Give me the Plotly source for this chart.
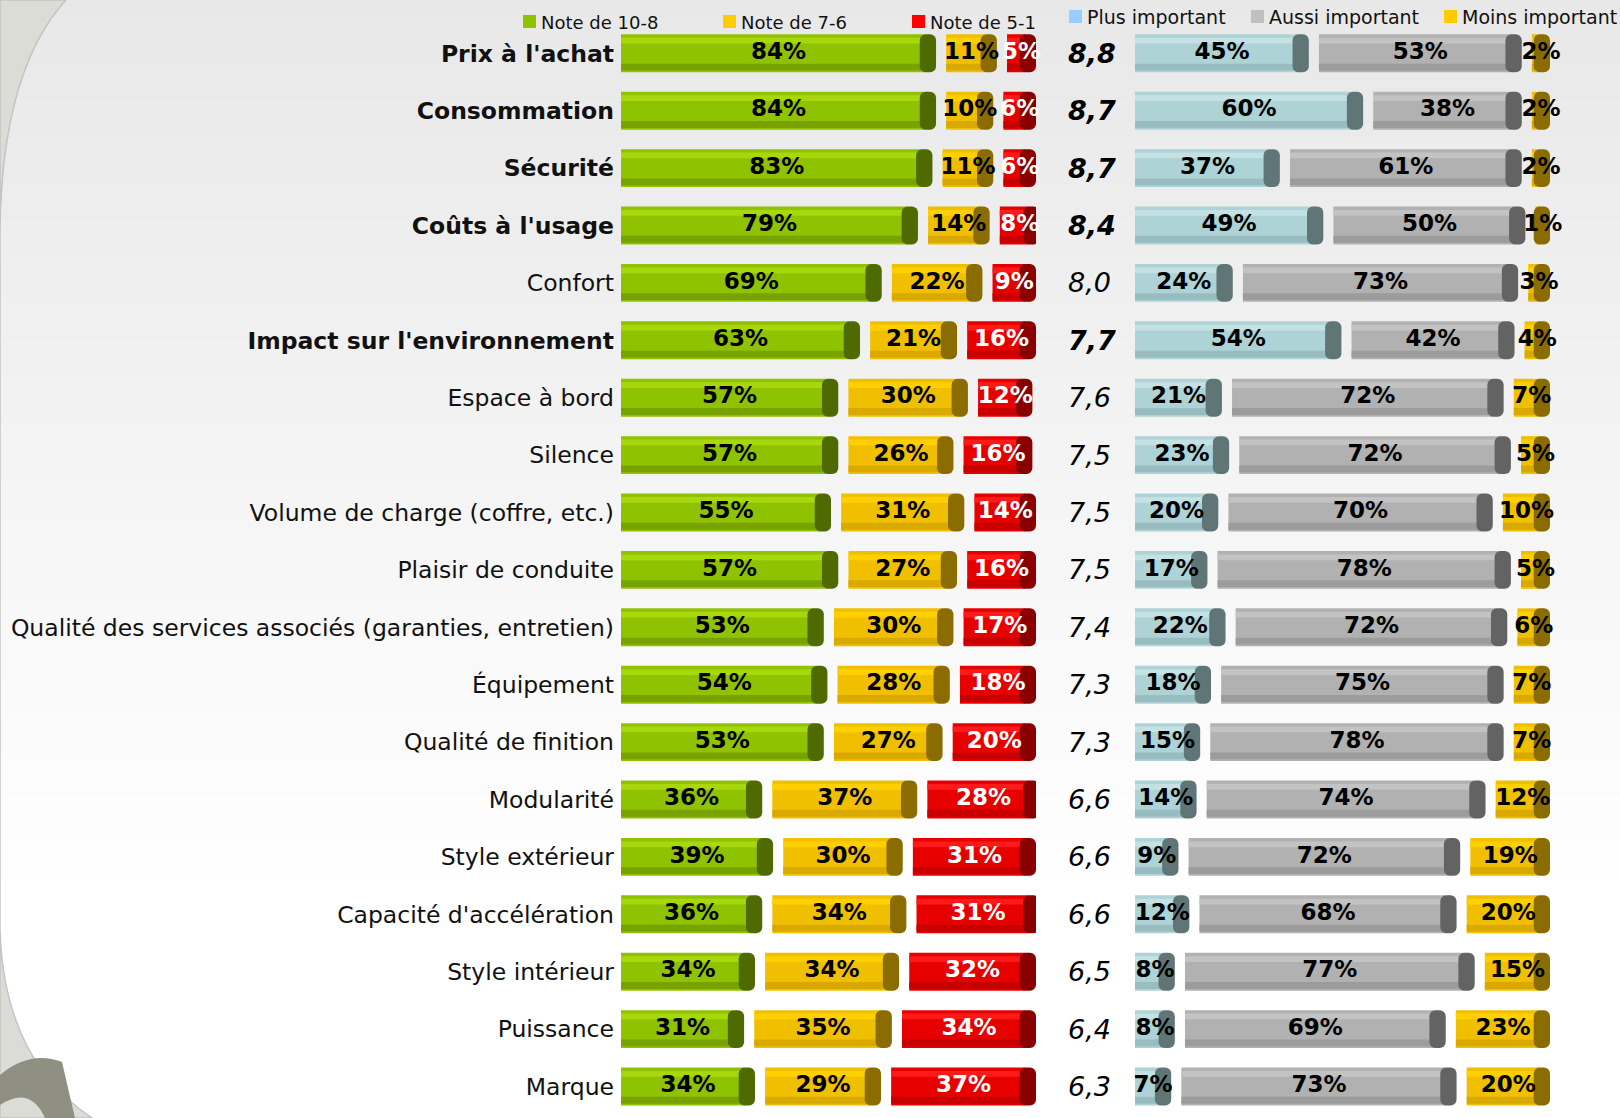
import plotly.graph_objects as go

# ---------------- data ----------------
categories = [
    "Prix à l'achat", "Consommation", "Sécurité", "Coûts à l'usage", "Confort",
    "Impact sur l'environnement", "Espace à bord", "Silence",
    "Volume de charge (coffre, etc.)", "Plaisir de conduite",
    "Qualité des services associés (garanties, entretien)", "Équipement",
    "Qualité de finition", "Modularité", "Style extérieur",
    "Capacité d'accélération", "Style intérieur", "Puissance", "Marque",
]
bold_categories = [True, True, True, True, False, True] + [False] * 13

note_10_8 = [84, 84, 83, 79, 69, 63, 57, 57, 55, 57, 53, 54, 53, 36, 39, 36, 34, 31, 34]
note_7_6 = [11, 10, 11, 14, 22, 21, 30, 26, 31, 27, 30, 28, 27, 37, 30, 34, 34, 35, 29]
note_5_1 = [5, 6, 6, 8, 9, 16, 12, 16, 14, 16, 17, 18, 20, 28, 31, 31, 32, 34, 37]

plus_important = [45, 60, 37, 49, 24, 54, 21, 23, 20, 17, 22, 18, 15, 14, 9, 12, 8, 8, 7]
aussi_important = [53, 38, 61, 50, 73, 42, 72, 72, 70, 78, 72, 75, 78, 74, 72, 68, 77, 69, 73]
moins_important = [2, 2, 2, 1, 3, 4, 7, 5, 10, 5, 6, 7, 7, 12, 19, 20, 15, 23, 20]

moyennes = ["8,8", "8,7", "8,7", "8,4", "8,0", "7,7", "7,6", "7,5", "7,5", "7,5",
            "7,4", "7,3", "7,3", "6,6", "6,6", "6,6", "6,5", "6,4", "6,3"]
bold_moyennes = [True, True, True, True, False, True] + [False] * 13

left_legend = ["Note de 10-8", "Note de 7-6", "Note de 5-1"]
right_legend = ["Plus important", "Aussi important", "Moins important"]

# ---------------- styles ----------------
W, H = 1620, 1118
TOP = 24.6   # px above first row area
CAP = 3.0    # 3D end cap width (axis units)
GAP = 2.8    # gap between segments (axis units)
XMAX = 100 + 3 * CAP + 2 * GAP
ROW_PX = 57.4
YMAX = (H - TOP) / ROW_PX - 0.5

GREEN = dict(body="#8fc200", hi="#a8d80c", lo="#78a200", cap="#4e6a00", text="#000000")
YELLOW = dict(body="#f0c000", hi="#ffd000", lo="#d9a900", cap="#8a6c00", text="#000000")
RED = dict(body="#e60000", hi="#ff1a1a", lo="#c80000", cap="#8a0000", text="#ffffff")
BLUE = dict(body="#aed3d6", hi="#c4e2e4", lo="#98bcbf", cap="#5f7576", text="#000000")
GREY = dict(body="#b1b1b1", hi="#c3c3c3", lo="#9c9c9c", cap="#636363", text="#000000")

LABEL_FONT = "DejaVu Sans, Verdana, sans-serif"

fig = go.Figure()


def add_panel(series, styles, xaxis):
    bases = [0.0] * len(categories)
    for vals, st in zip(series, styles):
        common = dict(y=categories, orientation="h", xaxis=xaxis, yaxis="y",
                      hoverinfo="skip", showlegend=False)
        fig.add_trace(go.Bar(x=vals, base=bases, width=0.66,
                             marker=dict(color=st["body"], line=dict(width=0)), **common))
        fig.add_trace(go.Bar(x=vals, base=bases, width=0.10, offset=-0.27,
                             marker=dict(color=st["hi"], line=dict(width=0)), **common))
        fig.add_trace(go.Bar(x=vals, base=bases, width=0.12, offset=0.18,
                             marker=dict(color=st["lo"], line=dict(width=0)), **common))
        cap_base = [b + v - CAP / 2 for b, v in zip(bases, vals)]
        fig.add_trace(go.Bar(x=[CAP * 1.5] * len(vals), base=cap_base, width=0.66,
                             marker=dict(color=st["cap"], line=dict(width=0), cornerradius=6),
                             **common))
        fig.add_trace(go.Scatter(
            y=categories, x=[b + (v + CAP) / 2 for b, v in zip(bases, vals)],
            mode="text", text=[f"{v}%" for v in vals], xaxis=xaxis, yaxis="y",
            textfont=dict(family=LABEL_FONT, size=23, color=st["text"], weight="bold"),
            hoverinfo="skip", showlegend=False, cliponaxis=False))
        bases = [b + v + CAP + GAP for b, v in zip(bases, vals)]


add_panel([note_10_8, note_7_6, note_5_1], [GREEN, YELLOW, RED], "x")
add_panel([plus_important, aussi_important, moins_important], [BLUE, GREY, YELLOW], "x2")

# ---------------- background (soft vertical fade) ----------------
shapes = []
NB = 56
top_rgb, bot_rgb = (232, 232, 232), (255, 255, 255)
for i in range(NB):
    t = min(1.0, (i / (NB - 1)) / 0.8)
    c = tuple(round(a + (b - a) * t) for a, b in zip(top_rgb, bot_rgb))
    shapes.append(dict(type="rect", xref="paper", yref="paper", layer="below",
                       x0=0, x1=1, y0=1 - (i + 1) / NB, y1=1 - i / NB + 0.001,
                       fillcolor=f"rgb{c}", line=dict(width=0)))


def P(x, y):
    return f"{x / W:.5f},{1 - y / H:.5f}"


outer = (f"M {P(0, 0)} L {P(66, 0)} Q {P(2, 70)} {P(0, 230)} L {P(0, 930)} "
         f"Q {P(4, 1060)} {P(92, 1118)} L {P(0, 1118)} Z")
shapes.append(dict(type="path", xref="paper", yref="paper", layer="below", path=outer,
                   fillcolor="#dcdcd7", line=dict(color="#c4c4c4", width=1.5)))
deco = (f"M {P(0, 1075)} Q {P(30, 1050)} {P(62, 1062)} L {P(75, 1118)} "
        f"L {P(45, 1118)} Q {P(30, 1085)} {P(0, 1105)} Z")
shapes.append(dict(type="path", xref="paper", yref="paper", layer="below", path=deco,
                   fillcolor="#8f8f82", line=dict(width=0)))

# legend squares + text
annotations = []
left_leg_x = [523, 723, 912]
right_leg_x = [1069, 1251, 1444]
left_cols = [GREEN["body"], "#ffcc00", "#ff0000"]
right_cols = ["#99ccff", "#c0c0c0", "#ffcc00"]
for name, x0, col in zip(left_legend, left_leg_x, left_cols):
    shapes.append(dict(type="rect", xref="paper", yref="paper", x0=x0 / W, x1=(x0 + 13) / W,
                       y0=1 - 28 / H, y1=1 - 15 / H, fillcolor=col, line=dict(width=0)))
    annotations.append(dict(xref="paper", yref="paper", x=(x0 + 16) / W, y=1 - 22 / H,
                            text=name, showarrow=False, xanchor="left", yanchor="middle",
                            font=dict(family=LABEL_FONT, size=18, color="#111111")))
for name, x0, col in zip(right_legend, right_leg_x, right_cols):
    shapes.append(dict(type="rect", xref="paper", yref="paper", x0=x0 / W, x1=(x0 + 13) / W,
                       y0=1 - 23 / H, y1=1 - 10 / H, fillcolor=col, line=dict(width=0)))
    annotations.append(dict(xref="paper", yref="paper", x=(x0 + 16) / W, y=1 - 17 / H,
                            text=name, showarrow=False, xanchor="left", yanchor="middle",
                            font=dict(family=LABEL_FONT, size=19, color="#111111")))

# average scores
for cat, m, b in zip(categories, moyennes, bold_moyennes):
    txt = f"<b><i>{m}</i></b>" if b else f"<i>{m}</i>"
    annotations.append(dict(xref="paper", yref="y", x=1066 / W, y=cat, text=txt,
                            showarrow=False, xanchor="left", yanchor="middle",
                            font=dict(family=LABEL_FONT, size=27, color="#000000")))

ticktext = [f"<b>{c}</b>" if b else c for c, b in zip(categories, bold_categories)]

fig.update_layout(
    width=W, height=H,
    margin=dict(l=0, r=0, t=0, b=0, pad=0),
    paper_bgcolor="#ffffff", plot_bgcolor="rgba(0,0,0,0)",
    barmode="overlay", showlegend=False, hovermode=False,
    shapes=shapes, annotations=annotations,
    xaxis=dict(domain=[621 / W, 1036 / W], range=[0, XMAX], visible=False, fixedrange=True),
    xaxis2=dict(domain=[1135 / W, 1550 / W], range=[0, XMAX], visible=False,
                anchor="y", fixedrange=True),
    yaxis=dict(type="category", categoryorder="array", categoryarray=categories,
               domain=[0, 1 - TOP / H],
               range=[YMAX, -0.5], tickvals=categories, ticktext=ticktext,
               ticks="", showgrid=False, zeroline=False, showline=False,
               ticklabelstandoff=6, fixedrange=True,
               tickfont=dict(family=LABEL_FONT, size=23.5, color="#111111")),
)

fig.write_html("out.html", config={"displayModeBar": False},
               post_script="document.body.style.margin='0';")
